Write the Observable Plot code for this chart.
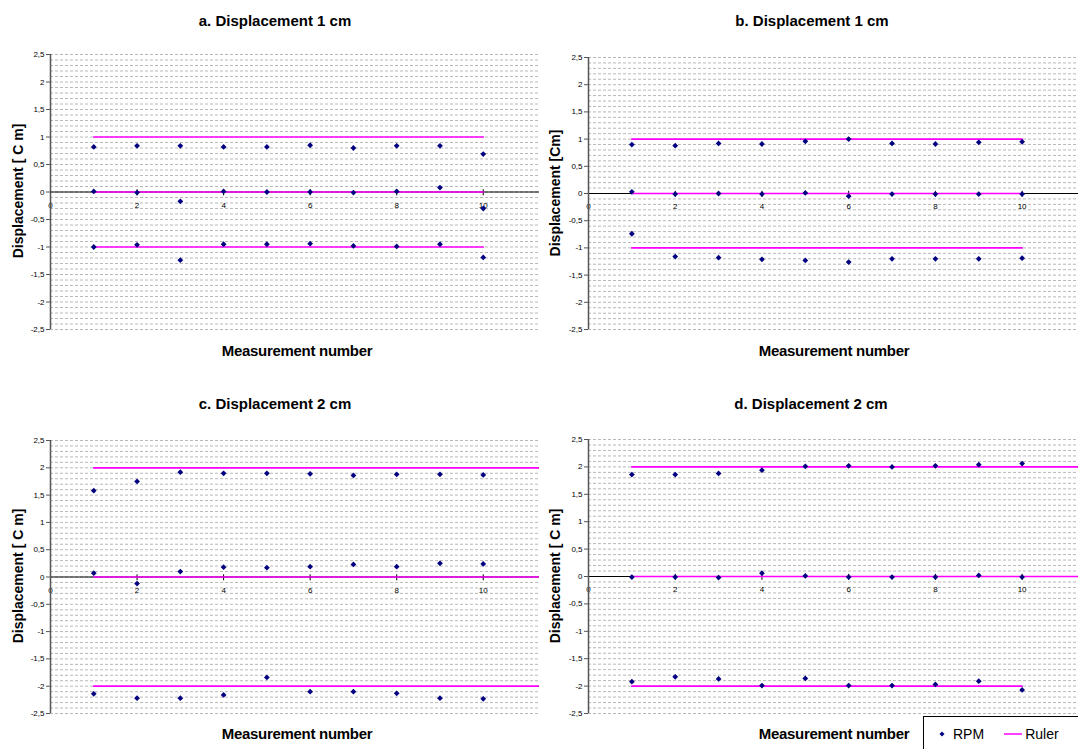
<!DOCTYPE html>
<html>
<head>
<meta charset="utf-8">
<script src="https://cdn.jsdelivr.net/npm/d3@7"></script>
<script src="https://cdn.jsdelivr.net/npm/@observablehq/plot@0.6"></script>
<style>
  html, body { margin: 0; padding: 0; background: #fff; overflow: hidden; }
  #root { position: relative; width: 1078px; height: 749px; font-family: "Liberation Sans", Arial, sans-serif; }
  .abs { position: absolute; white-space: nowrap; }
  .title { font-size: 15px; font-weight: bold; transform: translate(-50%, -50%); }
  .xlab { font-size: 15px; font-weight: bold; transform: translate(-50%, -50%); letter-spacing: -0.3px; }
  .ylab { font-size: 14px; font-weight: bold; transform: translate(-50%, -50%) rotate(-90deg); }
  .legend { border: 1px solid #000; font-size: 14px; display: flex; align-items: center; }
</style>
</head>
<body>
<div id="root"></div>
<script>
// ---- data ----
const measurement = [1, 2, 3, 4, 5, 6, 7, 8, 9, 10];

const aTop = [0.82, 0.84, 0.84, 0.82, 0.82, 0.85, 0.80, 0.84, 0.84, 0.69];
const aMid = [0.01, -0.01, -0.17, 0.01, 0.00, 0.00, -0.01, 0.01, 0.08, -0.30];
const aBot = [-1.00, -0.96, -1.24, -0.95, -0.95, -0.94, -0.98, -0.99, -0.95, -1.19];

const bTop = [0.90, 0.88, 0.92, 0.91, 0.96, 1.00, 0.92, 0.91, 0.94, 0.95];
const bMid = [0.03, -0.01, 0.00, -0.01, 0.01, -0.05, -0.01, -0.01, -0.01, -0.01];
const bBot = [-0.74, -1.16, -1.18, -1.21, -1.23, -1.26, -1.20, -1.20, -1.20, -1.19];

const cTop = [1.58, 1.75, 1.92, 1.90, 1.90, 1.89, 1.86, 1.88, 1.88, 1.87];
const cMid = [0.07, -0.12, 0.10, 0.18, 0.17, 0.19, 0.23, 0.19, 0.25, 0.24];
const cBot = [-2.14, -2.22, -2.22, -2.16, -1.84, -2.10, -2.10, -2.13, -2.22, -2.23];

const dTop = [1.86, 1.86, 1.88, 1.94, 2.01, 2.02, 2.00, 2.02, 2.04, 2.06];
const dMid = [-0.01, -0.01, -0.02, 0.06, 0.01, -0.01, -0.01, -0.01, 0.02, -0.01];
const dBot = [-1.92, -1.83, -1.87, -1.99, -1.86, -1.99, -1.99, -1.97, -1.91, -2.07];

// ruler levels and the last measurement number each ruler line reaches
const rulerA = [1, 0, -1], rulerEndA = [10, 10, 10];
const rulerB = [1, 0, -1], rulerEndB = [10, 10, 10];
const rulerC = [2, 0, -2], rulerEndC = [12, 12, 12];
const rulerD = [2, 0, -2], rulerEndD = [12, 12, 10];

const titles = ["a. Displacement 1 cm", "b. Displacement 1 cm", "c. Displacement 2 cm", "d. Displacement 2 cm"];
const yLabels = ["Displacement [ C m]", "Displacement [Cm]", "Displacement [ C m]", "Displacement [ C m]"];
const xLabel = "Measurement number";
const yTicks = [-2.5, -2, -1.5, -1, -0.5, 0, 0.5, 1, 1.5, 2, 2.5];
const xTicks = [0, 2, 4, 6, 8, 10];
const legendItems = ["RPM", "Ruler"];

// ---- drawing ----
const root = document.getElementById("root");
const FONT = "Liberation Sans, Arial, sans-serif";
const gridVals = d3.range(-25, 26).map(d => d / 10);

function panel(cfg) {
  const rows = [];
  [cfg.top, cfg.mid, cfg.bot].forEach((vals, s) =>
    vals.forEach((v, i) => rows.push({x: measurement[i], y: v, s})));
  const ruler = [];
  cfg.levels.forEach((lvl, s) => {
    ruler.push({x: measurement[0], y: lvl, s});
    ruler.push({x: cfg.ends[s], y: lvl, s});
  });
  const chart = Plot.plot({
    width: cfg.width,
    height: 300,
    marginLeft: 50,
    marginRight: cfg.mr,
    marginTop: cfg.mt,
    marginBottom: cfg.mb,
    style: {background: "transparent", fontFamily: FONT, overflow: "visible"},
    x: {domain: [0, 11.3], axis: null},
    y: {domain: [-2.5, 2.5], axis: null},
    marks: [
      Plot.ruleY(gridVals, {y: d => d, stroke: "#b8b8b8", strokeDasharray: "3,2", strokeWidth: 1}),
      Plot.ruleY([0], {stroke: "#000", strokeWidth: 1}),
      Plot.ruleX(xTicks.filter(d => d > 0), {x: d => d, y1: 0.04, y2: -0.07, stroke: "#000"}),
      Plot.text(xTicks, {x: d => d, y: 0, dy: 13, text: d => String(d), fontSize: 8, fill: "#000"}),
      Plot.lineY(ruler, {x: "x", y: "y", z: "s", stroke: "#ff00ff", strokeWidth: 1.7, clip: true}),
      Plot.dot(rows, {x: "x", y: "y", symbol: "square", rotate: 45, r: 2.3, fill: "#000080", stroke: "none"}),
      Plot.ruleX([0], {stroke: "#555", strokeWidth: 1.5}),
      Plot.axisY(yTicks, {anchor: "left", tickSize: 4, tickPadding: 2, fontSize: 8, stroke: "#555", fill: "#000",
        tickFormat: d => String(d).replace(".", ","), label: null})
    ]
  });
  const div = document.createElement("div");
  div.className = "abs";
  div.style.left = cfg.left + "px";
  div.style.top = cfg.svgTop + "px";
  div.style.width = cfg.width + "px";
  div.appendChild(chart);
  root.appendChild(div);

  const t = document.createElement("div");
  t.className = "abs title"; t.textContent = cfg.title;
  t.style.left = cfg.tx + "px"; t.style.top = cfg.ty + "px";
  root.appendChild(t);
  const xl = document.createElement("div");
  xl.className = "abs xlab"; xl.textContent = xLabel;
  xl.style.left = cfg.xlx + "px"; xl.style.top = cfg.xly + "px";
  root.appendChild(xl);
  const yl = document.createElement("div");
  yl.className = "abs ylab"; yl.textContent = cfg.ylabel;
  yl.style.left = cfg.ylx + "px"; yl.style.top = cfg.yly + "px";
  root.appendChild(yl);
}

panel({left: 0, svgTop: 40, width: 545, mr: 6, mt: 14, mb: 11, top: aTop, mid: aMid, bot: aBot,
  levels: rulerA, ends: rulerEndA, title: titles[0], tx: 275, ty: 20, xlx: 297, xly: 350, ylabel: yLabels[0], ylx: 18, yly: 191});
panel({left: 538, svgTop: 40, width: 540, mr: 0, mt: 17, mb: 11, top: bTop, mid: bMid, bot: bBot,
  levels: rulerB, ends: rulerEndB, title: titles[1], tx: 812, ty: 20, xlx: 834, xly: 350, ylabel: yLabels[1], ylx: 555, yly: 193});
panel({left: 0, svgTop: 425, width: 545, mr: 6, mt: 15, mb: 12, top: cTop, mid: cMid, bot: cBot,
  levels: rulerC, ends: rulerEndC, title: titles[2], tx: 275, ty: 403, xlx: 297, xly: 733, ylabel: yLabels[2], ylx: 18, yly: 576});
panel({left: 538, svgTop: 425, width: 540, mr: 0, mt: 14, mb: 12, top: dTop, mid: dMid, bot: dBot,
  levels: rulerD, ends: rulerEndD, title: titles[3], tx: 811, ty: 403, xlx: 834, xly: 733, ylabel: yLabels[3], ylx: 555, yly: 576});

// legend
const lg = document.createElement("div");
lg.className = "abs legend";
lg.style.left = "923px"; lg.style.top = "716px"; lg.style.width = "170px"; lg.style.height = "40px";
lg.innerHTML =
  `<svg width="14" height="14" style="margin-left:11px;margin-right:4px;margin-top:-6px"><path d="M7,4.5L9.5,7L7,9.5L4.5,7Z" fill="#000080"/></svg>` +
  `<span style="margin-top:-6px">${legendItems[0]}</span>` +
  `<svg width="18" height="4" style="margin-left:20px;margin-right:3px;margin-top:-6px"><line x1="0" y1="2" x2="18" y2="2" stroke="#ff00ff" stroke-width="1.5"/></svg>` +
  `<span style="margin-top:-6px">${legendItems[1]}</span>`;
root.appendChild(lg);
</script>
</body>
</html>
